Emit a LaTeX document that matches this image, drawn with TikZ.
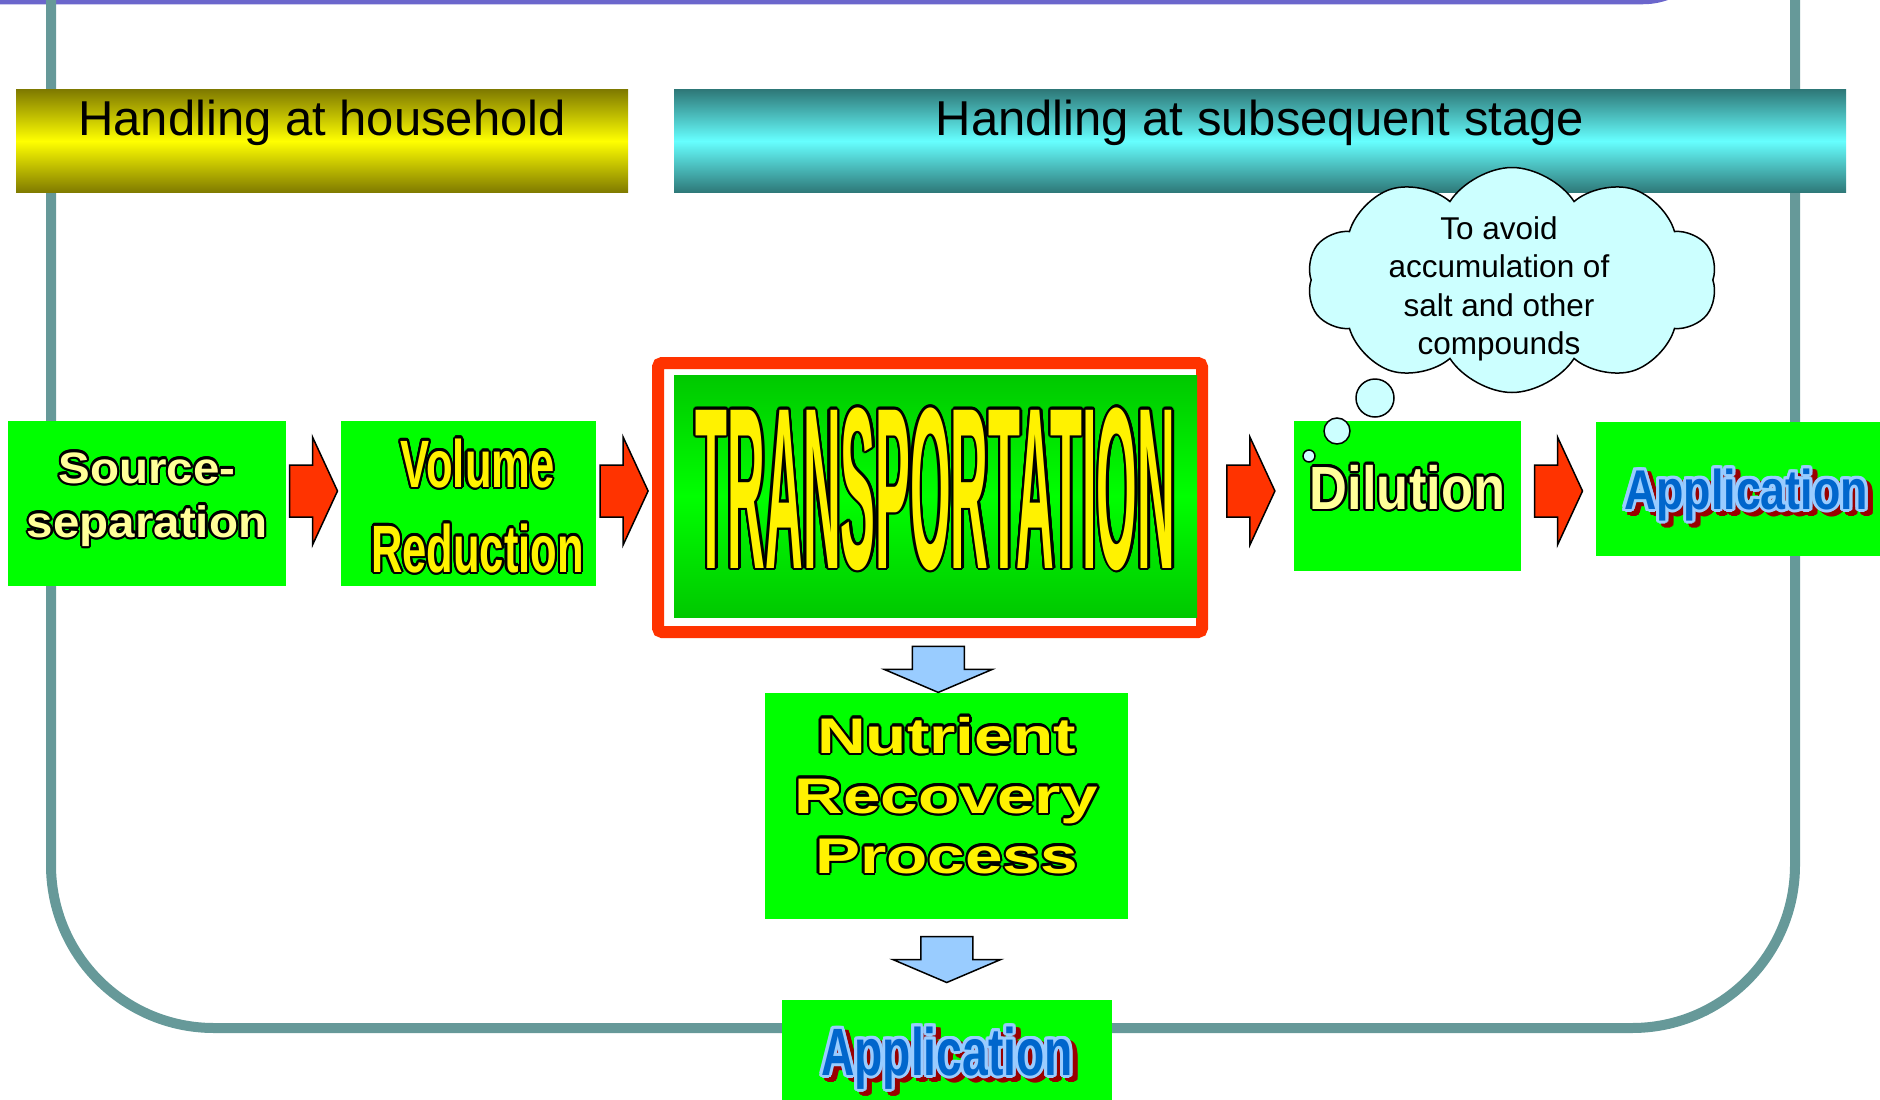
\documentclass[tikz,border=0pt]{standalone}
\usepackage{fontspec}
\setmainfont{Liberation Sans}
\usepackage{graphicx}
\usepackage[copies]{contour}
\usetikzlibrary{calc, shapes.symbols}
\definecolor{frameteal}{HTML}{669999}
\definecolor{bandpurple}{HTML}{6B66CC}
\definecolor{barolive}{HTML}{7F7A00}
\definecolor{baryellow}{HTML}{FFFF00}
\definecolor{barteal}{HTML}{2E7878}
\definecolor{barcyan}{HTML}{66FFFF}
\definecolor{boxgreen}{HTML}{00FF00}
\definecolor{boxdkgreen}{HTML}{00C800}
\definecolor{arrowred}{HTML}{FF3300}
\definecolor{arrowblue}{HTML}{99CCFF}
\definecolor{cloudcyan}{HTML}{CCFFFF}
\definecolor{paleyellow}{HTML}{FFFF99}
\definecolor{appblue}{HTML}{0066CC}
\definecolor{applight}{HTML}{99CCFF}
\definecolor{shadowred}{HTML}{990000}
\contourlength{2.2pt}
% outlined word: outline colour, fill colour, text
\newcommand{\outl}[3]{{\color{#2}\contour{#1}{#3}}}
% fill colour, horizontal scale, word
\newcommand{\bigword}[3]{\outl{black}{#1}{\scalebox{#2}[1]{#3}}}
% blue word with pale rim and red drop shadow
\newcommand{\apptext}[2]{{\contourlength{3pt}%
  \rlap{\raisebox{-4pt}[0pt][0pt]{\hspace{5pt}\outl{shadowred}{shadowred}{\scalebox{#1}[1]{#2}}}}%
  \outl{applight}{appblue}{\scalebox{#1}[1]{#2}}}}
\tikzset{
  frameline/.style={draw=frameteal, line width=10pt, rounded corners=163pt},
  bandline/.style={draw=bandpurple, line width=4.5pt, rounded corners=72pt},
  hbar/.style={rectangle, inner sep=0pt, minimum height=103pt,
               font=\fontsize{49}{58}\selectfont, text height=36pt, text depth=48pt},
  box/.style={rectangle, fill=boxgreen, inner sep=0pt, align=center, font=\bfseries},
  redframe/.style={rectangle, draw=arrowred, line width=12pt, rounded corners=4pt, fill=white},
  redarrow/.style={fill=arrowred, draw=black, line width=1.5pt},
  bluearrow/.style={fill=arrowblue, draw=black, line width=1.5pt},
  thought/.style={cloud, cloud puffs=10, cloud puff arc=115, cloud ignores aspect,
                  draw=black, line width=1.5pt, fill=cloudcyan},
  bubble/.style={circle, draw=black, line width=1.5pt, fill=cloudcyan, inner sep=0pt},
  notetext/.style={align=center, inner sep=0pt, font=\fontsize{31.5}{38.5}\selectfont},
  pics/rarrow/.style={code={
    \draw[redarrow] (-24,-26) -- (-1,-26) -- (-1,-54) -- (24,0) -- (-1,54) -- (-1,26) -- (-24,26) -- cycle;}},
  pics/barrow/.style={code={
    \draw[bluearrow] (-26,-23) -- (26,-23) -- (26,0) -- (54,0) -- (0,23) -- (-54,0) -- (-26,0) -- cycle;}},
}

\begin{document}
\begin{tikzpicture}[x=1pt, y=-1pt]
  \useasboundingbox (0,0) rectangle (1880,1100);
  \clip (0,0) rectangle (1880,1100);
  % slide frame
  \draw[bandline] (-20,2) -- (1715,2) -- (1715,-150);
  \draw[frameline] (51,-30) -- (51,1028) -- (1795,1028) -- (1795,-30);

  \node[hbar, minimum width=612pt, top color=barolive, bottom color=barolive, middle color=baryellow]
    (hhold) at (322,141) {Handling at household};
  \node[hbar, minimum width=1172pt, top color=barteal, bottom color=barteal, middle color=barcyan]
    (hsub) at (1260,141) {Handling at subsequent stage};

  \node[box, minimum width=278pt, minimum height=165pt, font=\fontsize{44}{54}\selectfont\bfseries,
        text height=86pt, text depth=19pt] (src) at (147,503.5)
    {\bigword{paleyellow}{1.08}{Source-}\\\bigword{paleyellow}{1.08}{separation}};
  \node[box, minimum width=255pt, minimum height=165pt, font=\fontsize{67}{85}\selectfont\bfseries,
        text height=137pt, text depth=0pt] (vol) at (468.5,503.5)
    {\hspace*{18pt}\bigword{yellow}{0.65}{Volume}\\\hspace*{18pt}\bigword{yellow}{0.65}{Reduction}};
  \node[redframe, minimum width=544pt, minimum height=269pt] (transbox) at (930,497.5) {};
  \node[box, minimum width=523pt, minimum height=242pt, top color=boxdkgreen, bottom color=boxdkgreen,
        middle color=boxgreen, font=\fontsize{230}{270}\selectfont\bfseries,
        text height=170pt, text depth=26pt] (trans) at (935.5,496)
    {\contourlength{2.5pt}\bigword{yellow}{0.227}{TRANSPORTATION}};
  \node[box, minimum width=227pt, minimum height=150pt, font=\fontsize{61}{70}\selectfont\bfseries,
        text height=45pt, text depth=19pt] (dil) at (1407.5,496)
    {\bigword{paleyellow}{0.86}{Dilution}};
  \node[box, minimum width=300pt, minimum height=134pt, font=\fontsize{56}{64}\selectfont\bfseries,
        text height=41pt, text depth=1pt] (appr) at (1746,489)
    {\apptext{0.80}{Application}};
  \node[box, minimum width=363pt, minimum height=226pt, font=\fontsize{50}{60}\selectfont\bfseries,
        text height=156pt, text depth=22pt] (nut) at (946.5,806)
    {\bigword{yellow}{1.35}{Nutrient}\\\bigword{yellow}{1.35}{Recovery}\\\bigword{yellow}{1.35}{Process}};
  \node[box, minimum width=330pt, minimum height=110pt, font=\fontsize{67}{76}\selectfont\bfseries,
        text height=49pt, text depth=9pt] (appb) at (947,1055)
    {\apptext{0.69}{Application}};

  \foreach \a/\b in {src/vol, vol/transbox, transbox/dil, dil/appr}{
    \coordinate (m) at ($(\a.east)!.5!(\b.west)$);
    \pic at (m |- 0,491) {rarrow};
  }
  \pic at ($(transbox.south)!.5!(nut.north)+(0,4)$) {barrow};
  \pic at ($(nut.south)!.5!(appb.north)$) {barrow};

  % thought cloud over the dilution step
  \node[thought, minimum width=410pt, minimum height=225pt] (cloud) at (1512,280) {};
  \node[notetext, anchor=north] (note) at (1499,216)
    {To avoid\\accumulation of\\salt and other\\compounds};
  \node[bubble, minimum size=38pt] (b1) at (1375,398) {};
  \node[bubble, minimum size=26pt] (b2) at (1337,431) {};
  \node[bubble, minimum size=12pt] (b3) at (1309,456) {};
\end{tikzpicture}
\end{document}
